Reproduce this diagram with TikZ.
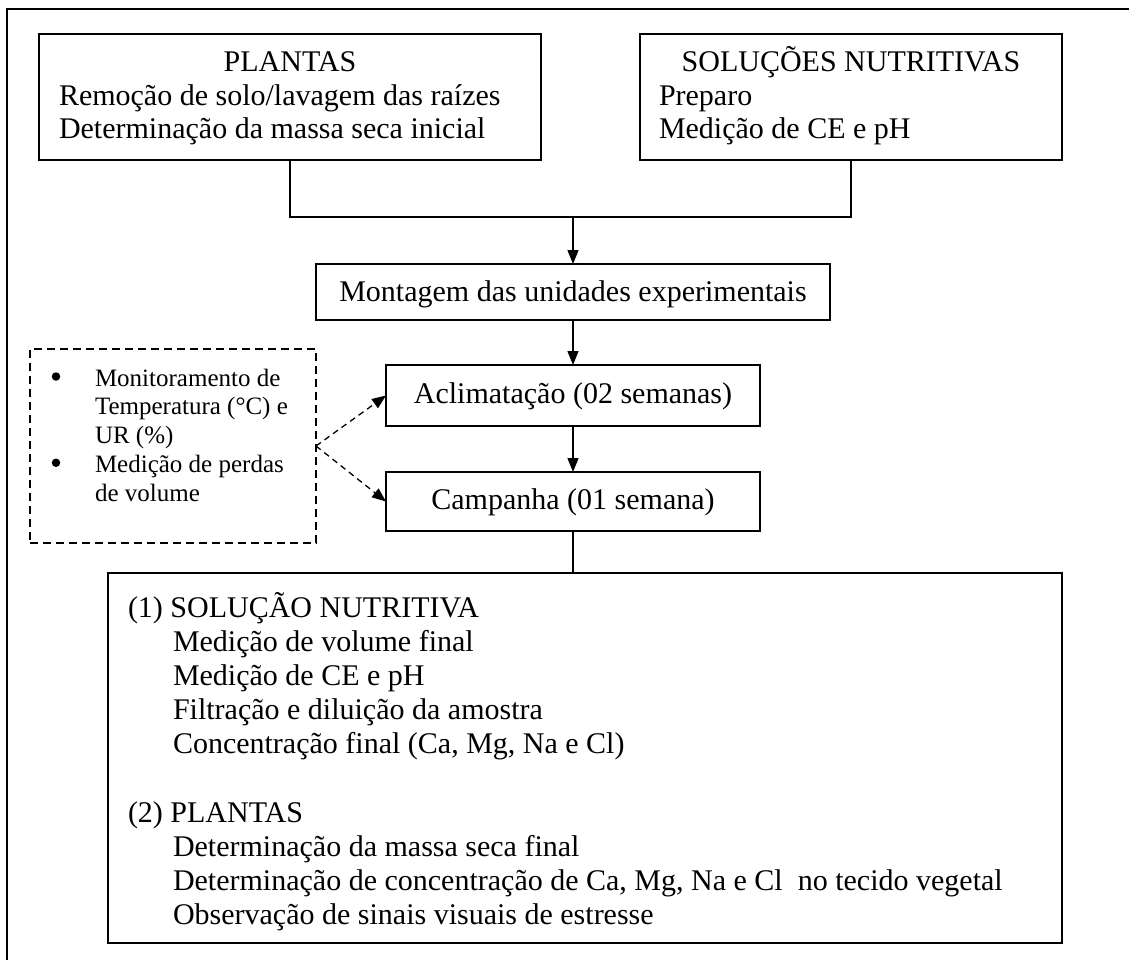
\documentclass[tikz,border=0pt]{standalone}
\usepackage{fontspec}
\setmainfont{Liberation Serif}
\usetikzlibrary{arrows.meta}

\begin{document}
\begin{tikzpicture}[x=1pt,y=-1pt,
  box/.style={draw, line width=1.6pt, inner sep=0pt, outer sep=0pt},
  dbox/.style={box, line width=1.3pt, dash pattern=on 8pt off 5pt},
  txt/.style={inner sep=0pt, outer sep=0pt, font=\fontsize{30}{30}\selectfont},
  stxt/.style={inner sep=0pt, outer sep=0pt, font=\fontsize{25}{25}\selectfont},
  dot/.style={circle, fill, inner sep=0pt, minimum size=8.5pt},
  link/.style={line width=1.4pt},
  arr/.style={link, -{Triangle[length=14pt,width=11pt]}},
  darr/.style={arr, line width=1.3pt, dash pattern=on 6pt off 4.5pt}]

\useasboundingbox (0,0) rectangle (1129,960);

% outer frame (runs off the right and bottom edges)
\draw[line width=2pt] (1129,9) -- (7,9) -- (7,960);

% boxes
\node[box, minimum width=502pt, minimum height=126pt] (plantas) at (290,97) {};
\node[box, minimum width=422pt, minimum height=126pt] (sol) at (851,97) {};
\node[box, minimum width=514pt, minimum height=56pt] (mont) at (573,292) {};
\node[box, minimum width=374pt, minimum height=61pt] (aclim) at (573,395.5) {};
\node[box, minimum width=374pt, minimum height=59pt] (camp) at (573,501.5) {};
\node[box, minimum width=954pt, minimum height=370pt] (final) at (585,758) {};
\node[dbox, minimum width=286pt, minimum height=194pt] (mon) at (173,446) {};

% texts of the upper boxes
\node[txt, anchor=base] at (290,72) {PLANTAS};
\node[txt, anchor=base west] at (59,105.5) {Remoção de solo/lavagem das raízes};
\node[txt, anchor=base west] at (59,139) {Determinação da massa seca inicial};
\node[txt, anchor=base] at (851,72) {SOLUÇÕES NUTRITIVAS};
\node[txt, anchor=base west] at (659,105.5) {Preparo};
\node[txt, anchor=base west] at (659,139) {Medição de CE e pH};

% central column
\node[txt, anchor=base] at (573,301) {Montagem das unidades experimentais};
\node[txt, anchor=base] at (573,403) {Aclimatação (02 semanas)};
\node[txt, anchor=base] at (573,509) {Campanha (01 semana)};

% monitoring list
\node[dot] (b1) at (56,376.5) {};
\node[stxt, anchor=base west] at (95,386) {Monitoramento de};
\node[stxt, anchor=base west] at (95,414.75) {Temperatura (°C) e};
\node[stxt, anchor=base west] at (95,443.5) {UR (\%)};
\node[dot] (b2) at (56,462.75) {};
\node[stxt, anchor=base west] at (95,472.25) {Medição de perdas};
\node[stxt, anchor=base west] at (95,501) {de volume};

% final analyses
\node[txt, anchor=base west] at (128,617) {(1) SOLUÇÃO NUTRITIVA};
\node[txt, anchor=base west] at (173,651.2) {Medição de volume final};
\node[txt, anchor=base west] at (173,685.4) {Medição de CE e pH};
\node[txt, anchor=base west] at (173,719.6) {Filtração e diluição da amostra};
\node[txt, anchor=base west] at (173,753.8) {Concentração final (Ca, Mg, Na e Cl)};
\node[txt, anchor=base west] at (128,822.2) {(2) PLANTAS};
\node[txt, anchor=base west] at (173,856.4) {Determinação da massa seca final};
\node[txt, anchor=base west] at (173,890.6) {Determinação de concentração de Ca, Mg, Na e Cl\ \ no tecido vegetal};
\node[txt, anchor=base west] at (173,924.8) {Observação de sinais visuais de estresse};

% connectors
\coordinate (jl) at (290,217);
\coordinate (jr) at (851,217);
\coordinate (jm) at (573,217);
\draw[link] (plantas.south) -- (jl) -- (jr) -- (sol.south);
\draw[arr] (jm) -- (mont.north);
\draw[arr] (mont.south) -- (aclim.north);
\draw[arr] (aclim.south) -- (camp.north);
\draw[link] (camp.south) -- (camp.south |- final.north);
\draw[darr] (mon.east) -- (aclim.west);
\draw[darr] (mon.east) -- (camp.west);
\end{tikzpicture}
\end{document}
